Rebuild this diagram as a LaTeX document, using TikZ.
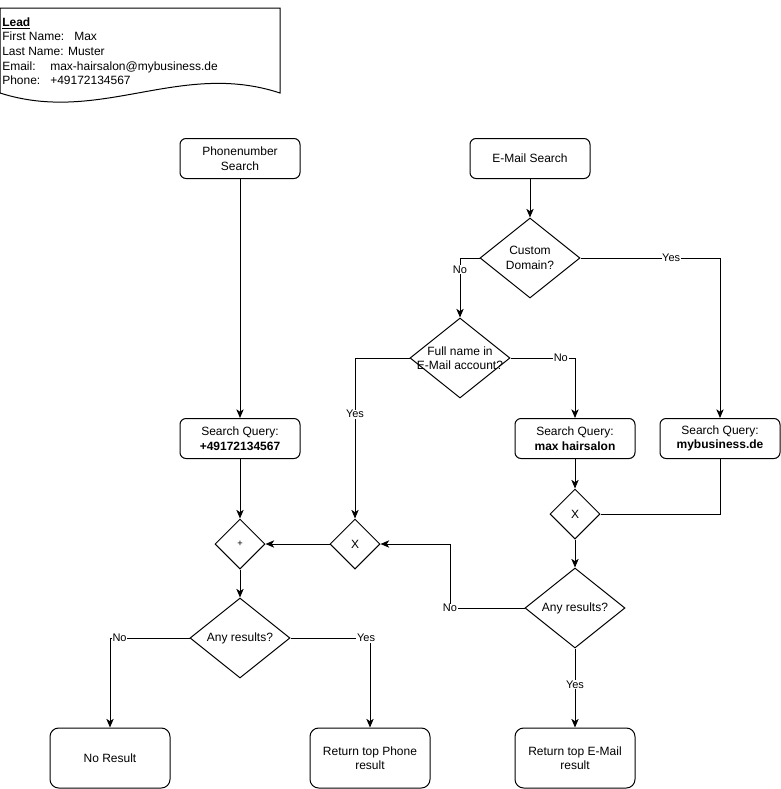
\documentclass[tikz,border=0pt]{standalone}
\usepackage{fontspec}
\setmainfont{Liberation Sans}
\usetikzlibrary{arrows.meta,shapes.geometric}
\begin{document}
\begin{tikzpicture}[
x=0.75pt,y=-0.75pt,
base/.style={font=\fontsize{9}{10.9}\selectfont,text=black},
stepbox/.style={base,draw,rounded corners=4.5pt,minimum width=90pt,minimum height=30pt,inner sep=2pt,align=center,line width=0.75pt},
endbox/.style={stepbox,minimum height=45pt,rounded corners=6.5pt},
decision/.style={draw,diamond,inner sep=0pt,minimum width=75pt,minimum height=60pt,line width=0.75pt},
gate/.style={decision,minimum width=37.5pt,minimum height=37.5pt},
flow/.style={line width=0.75pt,-{Stealth[length=6.5pt,width=5.5pt,inset=1.8pt]}},
plain/.style={line width=0.75pt},
edgelabel/.style={fill=white,inner sep=0.5pt,font=\fontsize{8.25}{9}\selectfont}
]
\useasboundingbox (0,0) rectangle (781,789);
\draw[line width=0.75pt] (0,8) -- (280,8) -- (280,93) .. controls (180,60) and (100,125) .. (0,93) -- cycle;
\node[base,anchor=north west,align=left,inner sep=0pt] (lead) at (2,17.5) {\textbf{\underline{Lead}}\\
\makebox[54pt][l]{First Name:}Max\\
Last Name: Muster\\
\makebox[36pt][l]{Email:}max-hairsalon@mybusiness.de\\
\makebox[36pt][l]{Phone:}+49172134567};
\node[stepbox] (ps) at (240,158.5) {Phonenumber\\Search};
\node[stepbox] (es) at (530,158.5) {E-Mail Search};
\node[decision,label={[base,align=center]center:Custom\\Domain?}] (cd) at (530,258) {};
\node[decision,label={[base,align=center]center:Full name in\\E-Mail account?}] (fn) at (460,358) {};
\node[stepbox] (sqp) at (240,438.5) {Search Query:\\\textbf{+49172134567}};
\node[stepbox] (sqm) at (575,438.5) {Search Query:\\\textbf{max hairsalon}};
\node[stepbox] (sqd) at (720,438.5) {Search Query:\\\textbf{mybusiness.de}};
\node[gate,label={[base,font=\fontsize{7}{8}\selectfont]center:+}] (plus) at (240,544) {};
\node[gate,label={[base]center:X}] (xl) at (355,544) {};
\node[gate,label={[base]center:X}] (xr) at (575,514) {};
\node[decision,label={[base]center:Any results?}] (ae) at (575,608) {};
\node[decision,label={[base]center:Any results?}] (ap) at (240,638) {};
\node[endbox] (nr) at (110,758) {No Result};
\node[endbox] (rp) at (370,758) {Return top Phone\\result};
\node[endbox] (re) at (575,758) {Return top E-Mail\\result};
\coordinate (nb) at (450,544);
\draw[flow] (ps) -- (sqp);
\draw[flow] (es) -- (cd);
\draw[flow] (cd.west) -| node[edgelabel,pos=0.6] {No} (fn.north);
\draw[flow] (cd.east) -| node[edgelabel,pos=0.325] {Yes} (sqd.north);
\draw[flow] (fn.west) -| node[edgelabel,pos=0.675] {Yes} (xl.north);
\draw[flow] (fn.east) -| node[edgelabel,pos=0.39] {No} (sqm.north);
\draw[flow] (sqm) -- (xr);
\draw[plain] (sqd.south) |- (xr.east);
\draw[flow] (xr) -- (ae);
\draw[flow] (ae.west) -| node[edgelabel,pos=0.5] {No} (nb) -- (xl.east);
\draw[flow] (ae.south) -- node[edgelabel,pos=0.46] {Yes} (re.north);
\draw[flow] (xl) -- (plus);
\draw[flow] (sqp) -- (plus);
\draw[flow] (plus) -- (ap);
\draw[flow] (ap.west) -| node[edgelabel,pos=0.44] {No} (nr.north);
\draw[flow] (ap.east) -| node[edgelabel,pos=0.475] {Yes} (rp.north);
\end{tikzpicture}
\end{document}
